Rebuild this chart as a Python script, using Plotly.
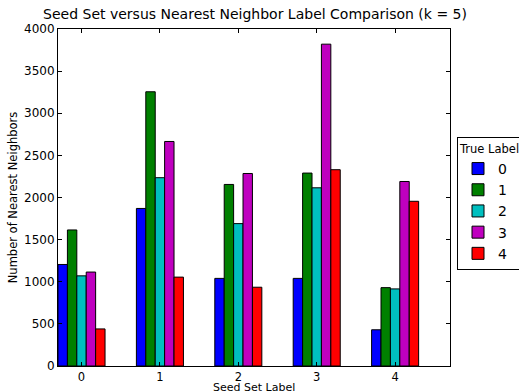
import numpy as np
import plotly.graph_objects as go

seed_labels = ["0", "1", "2", "3", "4"]
true_labels = ["0", "1", "2", "3", "4"]
colors = ["#0000ff", "#008000", "#00bfbf", "#bf00bf", "#ff0000"]
counts = {
    "0": [1205, 1870, 1040, 1040, 430],
    "1": [1615, 3255, 2155, 2290, 930],
    "2": [1070, 2235, 1690, 2115, 915],
    "3": [1115, 2665, 2285, 3820, 2190],
    "4": [440, 1055, 935, 2330, 1955],
}
width = 0.12
ind = np.arange(len(seed_labels))

fig = go.Figure()
for i, lab in enumerate(true_labels):
    fig.add_trace(go.Bar(
        x=ind + i * width + width / 2,
        y=counts[lab],
        width=width,
        name=lab,
        marker=dict(color=colors[i], line=dict(color="black", width=1)),
    ))

font = "DejaVu Sans"
fig.update_layout(
    width=519, height=391,
    barmode="overlay",
    plot_bgcolor="white", paper_bgcolor="white",
    margin=dict(l=58, r=69, t=29, b=25, autoexpand=False),
    font=dict(family=font, size=12, color="black"),
    title=dict(text="Seed Set versus Nearest Neighbor Label Comparison (k = 5)",
               x=255 / 519, xanchor="center", y=1 - 9 / 391, yanchor="top",
               font=dict(size=14, family=font)),
    legend=dict(title=dict(text="True Label", font=dict(size=11.5)),
                xref="container", yref="container",
                x=457 / 519, xanchor="left", y=1 - 137 / 391, yanchor="top",
                bordercolor="black", borderwidth=1, font=dict(size=14),
                bgcolor="white", itemwidth=30),
    xaxis=dict(range=[0, 5], tickvals=ind + 0.3, ticktext=seed_labels,
               showgrid=False, zeroline=False, showline=True, linecolor="black",
               linewidth=1, mirror="ticks", ticks="inside", ticklen=4,
               tickcolor="black", automargin=False, tickfont=dict(size=11.5)),
    yaxis=dict(range=[0, 4000], dtick=500, showgrid=False, zeroline=False,
               showline=True, linecolor="black", linewidth=1, mirror="ticks",
               ticks="inside", ticklen=4, tickcolor="black", automargin=False,
               title=dict(text="Number of Nearest Neighbors", standoff=4, font=dict(size=11.5))),
    annotations=[dict(text="Seed Set Label", xref="paper", yref="paper",
                      x=0.5, y=-0.042, xanchor="center", yanchor="top",
                      showarrow=False, font=dict(size=11), borderpad=0)],
)
fig.write_html("out.html", config={"displayModeBar": False},
               post_script="document.body.style.margin='0';document.body.style.overflow='hidden';")
